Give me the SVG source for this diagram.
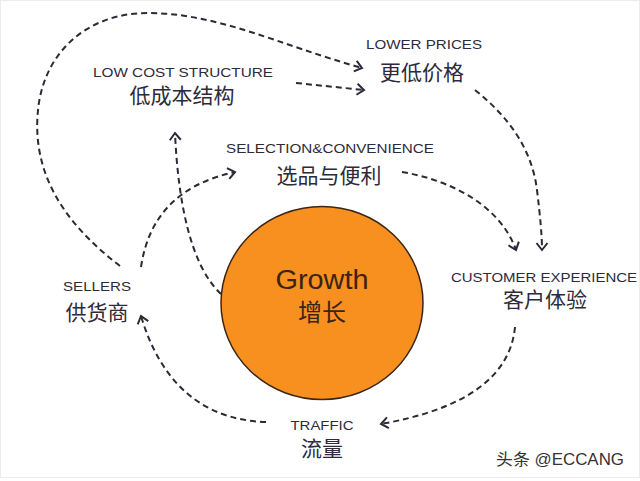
<svg xmlns="http://www.w3.org/2000/svg" width="640" height="481" viewBox="0 0 640 481">
<style>
.en{font-family:"Liberation Sans","Noto Sans CJK SC",sans-serif;fill:#2e2a3a;font-size:13.5px}
.zh{font-family:"Noto Sans CJK SC","Noto Sans",sans-serif;fill:#2e2a3a;font-size:21px}
.c{fill:none;stroke:#2a2a38;stroke-width:2;stroke-dasharray:6 4;marker-end:url(#ah)}
</style>
<defs>
<marker id="ah" markerUnits="userSpaceOnUse" markerWidth="20" markerHeight="20" refX="10" refY="10" orient="auto" overflow="visible">
<path d="M3,4.5 L10,10 L3,15.5" fill="none" stroke="#2a2a38" stroke-width="2"/>
</marker>
</defs>
<rect x="0" y="0" width="640" height="481" fill="#ffffff"/>
<rect x="0.5" y="0.5" width="639" height="477" fill="none" stroke="#ececec"/>
<g id="connectors">
<path class="c" d="M120,266 C60,220 32,170 38,110 C44,50 90,12 150,13 C220,14 280,45 362,68"/>
<path class="c" d="M296,83 L364,90"/>
<path class="c" d="M475,90 C510,118 532,150 537,190 C540,215 542,235 542,250"/>
<path class="c" d="M402,172 C450,180 500,205 516,250"/>
<path class="c" d="M141,267 C148,220 175,185 235,172"/>
<path class="c" d="M221,294 C190,265 178,200 175,133"/>
<path class="c" d="M515,327 C510,380 460,410 381,424"/>
<path class="c" d="M266,422 C200,420 160,380 141,316"/>
</g>
<g id="growth">
<ellipse cx="322" cy="303" rx="101" ry="96.5" fill="#f7901e" stroke="#3a2616" stroke-width="1.5"/>
<text x="322" y="289" text-anchor="middle" font-family="Liberation Sans, sans-serif" font-size="27" fill="#3a2414" textLength="93" lengthAdjust="spacingAndGlyphs">Growth</text>
<text x="322" y="321" text-anchor="middle" font-family="Noto Sans CJK SC, sans-serif" font-size="24" fill="#3a2414">增长</text>
</g>
<g id="lower-prices">
<text class="en" x="424" y="49" text-anchor="middle" textLength="116" lengthAdjust="spacingAndGlyphs">LOWER PRICES</text>
<text class="zh" x="422" y="80" text-anchor="middle">更低价格</text>
</g>
<g id="low-cost">
<text class="en" x="183" y="77" text-anchor="middle" textLength="180" lengthAdjust="spacingAndGlyphs">LOW COST STRUCTURE</text>
<text class="zh" x="182" y="103" text-anchor="middle" font-size="20.5">低成本结构</text>
</g>
<g id="selection">
<text class="en" x="330" y="153" text-anchor="middle" textLength="208" lengthAdjust="spacingAndGlyphs">SELECTION&amp;CONVENIENCE</text>
<text class="zh" x="329" y="183" text-anchor="middle">选品与便利</text>
</g>
<g id="customer-experience">
<text class="en" x="544" y="282" text-anchor="middle" textLength="186" lengthAdjust="spacingAndGlyphs">CUSTOMER EXPERIENCE</text>
<text class="zh" x="545" y="307" text-anchor="middle" font-size="20.5">客户体验</text>
</g>
<g id="sellers">
<text class="en" x="97" y="291" text-anchor="middle" textLength="68" lengthAdjust="spacingAndGlyphs">SELLERS</text>
<text class="zh" x="97" y="320" text-anchor="middle">供货商</text>
</g>
<g id="traffic">
<text class="en" x="322" y="430" text-anchor="middle" textLength="63" lengthAdjust="spacingAndGlyphs">TRAFFIC</text>
<text class="zh" x="322" y="456" text-anchor="middle" font-size="21.5">流量</text>
</g>
<text x="560" y="465" text-anchor="middle" font-family="Liberation Sans, Noto Sans CJK SC, sans-serif" font-size="16" fill="#333333" textLength="128" lengthAdjust="spacingAndGlyphs">头条 @ECCANG</text>
</svg>
